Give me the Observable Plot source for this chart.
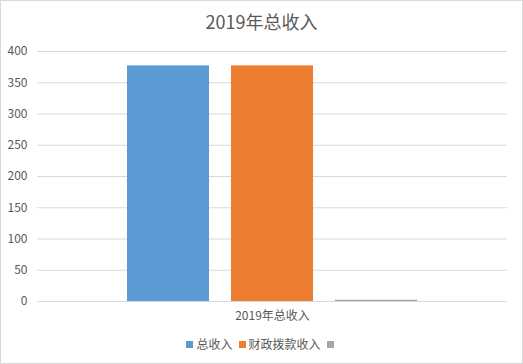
<!DOCTYPE html>
<html>
<head>
<meta charset="utf-8">
<script src="https://cdn.jsdelivr.net/npm/d3@7"></script>
<script src="https://cdn.jsdelivr.net/npm/@observablehq/plot@0.6"></script>
<style>
  html, body { margin: 0; padding: 0; background: #fff; }
  #wrap { position: relative; width: 523px; height: 364px; overflow: hidden; font-family: "Noto Sans CJK SC", "Noto Sans", sans-serif; color: #595959; }
  #border { position: absolute; left: 0; top: 0; width: 523px; height: 364px; box-sizing: border-box; border: 1px solid #d9d9d9; pointer-events: none; }
  #title { position: absolute; left: 0; top: 8px; width: 523px; text-align: center; font-size: 18px; line-height: 26px; color: #595959; }
  #chart { position: absolute; left: 0; top: 40px; }
  #legend { position: absolute; left: 0; top: 335px; width: 523px; display: flex; justify-content: center; align-items: center; font-size: 12px; line-height: 18px; color: #595959; }
  .item { display: flex; align-items: center; margin: 0 3px; }
  .sw { width: 7px; height: 7px; margin-right: 3px; }
</style>
</head>
<body>
<div id="wrap">
  <div id="title"></div>
  <div id="chart"></div>
  <div id="legend"></div>
  <div id="border"></div>
</div>
<script>
const title = "2019年总收入";
const category = "2019年总收入";
const series = ["总收入", "财政拨款收入", ""];
const values = [377, 377, 2];
const colors = ["#5b9bd5", "#ed7d31", "#a5a5a5"];
const yTicks = [0, 50, 100, 150, 200, 250, 300, 350, 400];

const data = series.map((s, i) => ({series: s, value: values[i]}));

document.getElementById("title").textContent = title;

const chart = Plot.plot({
  width: 523,
  height: 290,
  marginTop: 11,
  marginBottom: 29,
  marginLeft: 37,
  marginRight: 16,
  style: {fontFamily: "'Noto Sans CJK SC', 'Noto Sans', sans-serif", fontSize: "12px", color: "#595959", background: "transparent"},
  x: {domain: series, paddingInner: 0.21, paddingOuter: 0.854, axis: null},
  y: {domain: [0, 400], axis: null},
  color: {domain: series, range: colors},
  marks: [
    Plot.gridY(yTicks, {stroke: "#d9d9d9", strokeOpacity: 1, strokeWidth: 1}),
    Plot.axisY(yTicks, {tickSize: 0, tickPadding: 10, fill: "#595959", fontSize: 12, tickFormat: d => String(d), label: null}),
    Plot.barY(data, {x: "series", y: "value", fill: "series"}),
    Plot.text([category], {frameAnchor: "bottom", lineAnchor: "middle", dy: 15, fill: "#595959", fontSize: 12})
  ]
});
document.getElementById("chart").appendChild(chart);

const legend = d3.select("#legend");
series.forEach((s, i) => {
  const it = legend.append("div").attr("class", "item");
  it.append("div").attr("class", "sw").style("background", colors[i]);
  it.append("span").text(s);
});
</script>
</body>
</html>
